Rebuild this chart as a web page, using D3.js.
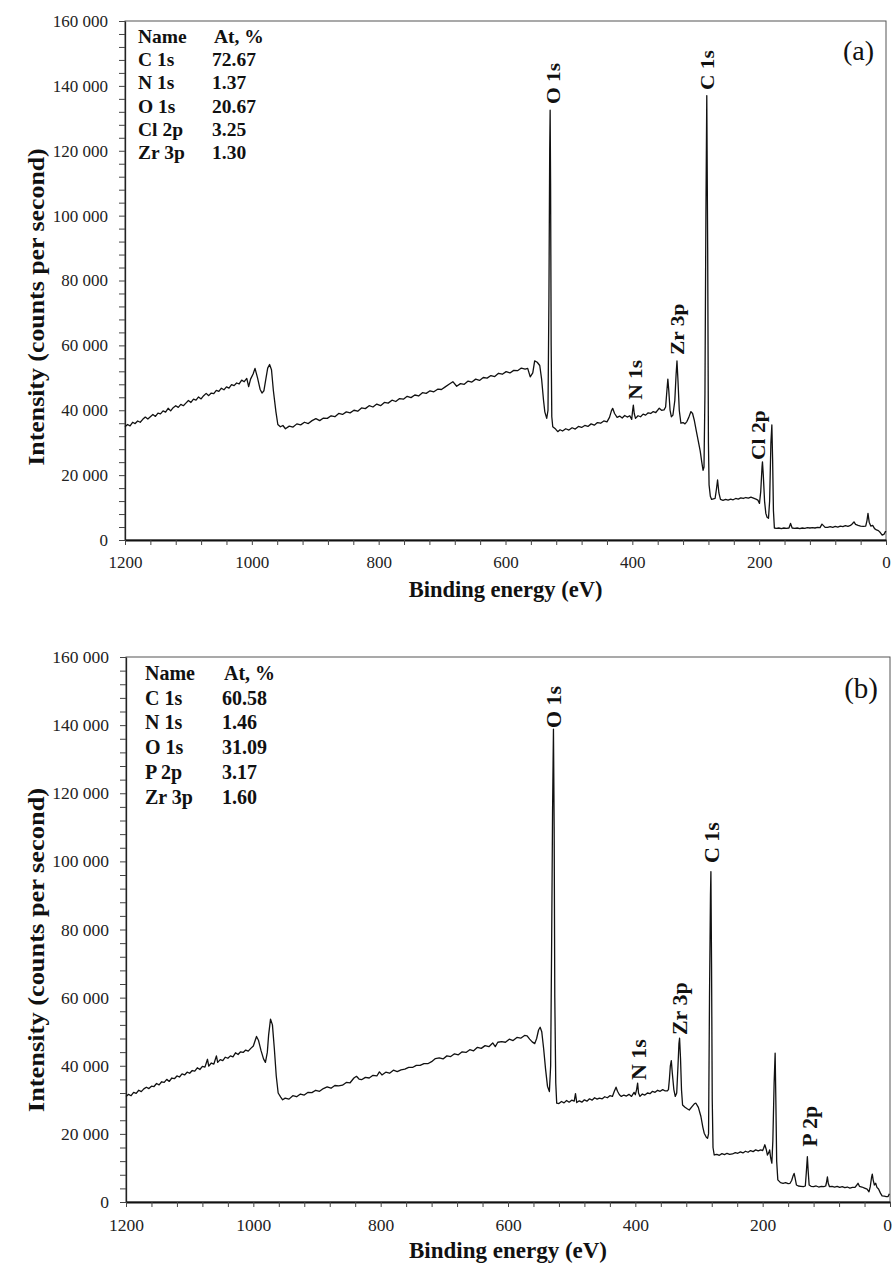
<!DOCTYPE html>
<html><head><meta charset="utf-8">
<script src="https://cdn.jsdelivr.net/npm/d3@7"></script>
<style>body{margin:0;background:#fff} svg{display:block} text{font-family:"Liberation Serif","Times New Roman",serif}</style>
</head><body><svg id="c" width="892" height="1268"></svg>
<script>
// ---------- data ----------
const xTickLabels = [1200, 1000, 800, 600, 400, 200, 0];
const yTickLabels = [0, 20000, 40000, 60000, 80000, 100000, 120000, 140000, 160000];
const xTitle = "Binding energy (eV)";
const yTitle = "Intensity (counts per second)";
const tableHeader = ["Name", "At, %"];

const namesA = ["C 1s", "N 1s", "O 1s", "Cl 2p", "Zr 3p"];
const atomicA = ["72.67", "1.37", "20.67", "3.25", "1.30"];
const namesB = ["C 1s", "N 1s", "O 1s", "P 2p", "Zr 3p"];
const atomicB = ["60.58", "1.46", "31.09", "3.17", "1.60"];

// peak annotations: text and anchor (eV, counts) of label start
const peaksA = [
  {text: "O 1s", eV: 514, cps: 134400},
  {text: "C 1s", eV: 271, cps: 138700},
  {text: "Zr 3p", eV: 318.5, cps: 57000},
  {text: "N 1s", eV: 385.3, cps: 43200},
  {text: "Cl 2p", eV: 191, cps: 24700}
];
const peaksB = [
  {text: "O 1s", eV: 517, cps: 139150},
  {text: "C 1s", eV: 268.6, cps: 99500},
  {text: "Zr 3p", eV: 319, cps: 49000},
  {text: "N 1s", eV: 383.3, cps: 35800},
  {text: "P 2p", eV: 115.2, cps: 16200}
];

const spectrumA = [[1200,34900],[1196,35600],[1192,35200],[1188,36300],[1184,35900],[1180,36700],[1176,36300],[1172,37200],[1168,37900],[1164,37300],[1160,38000],[1156,38700],[1152,38100],[1148,39100],[1144,38900],[1140,39800],[1136,39400],[1132,40600],[1128,39800],[1124,40800],[1120,41400],[1116,40900],[1112,41800],[1108,41400],[1104,42200],[1100,43000],[1096,42400],[1092,43400],[1088,43100],[1084,44100],[1080,43500],[1076,44500],[1072,45200],[1068,44500],[1064,45300],[1060,45100],[1056,46100],[1052,45800],[1048,46800],[1044,46300],[1040,47200],[1036,46800],[1032,47900],[1028,47600],[1024,48400],[1020,48100],[1016,49300],[1012,48800],[1008,49800],[1005,47300],[1002,49600],[998,51200],[995,52900],[991,50000],[987,46500],[984,45300],[981,46000],[978,49500],[975,53000],[972,54100],[969,52500],[966,46000],[962,39500],[959,35600],[955,34900],[951,35300],[947,34300],
[941,35100],[935,34800],[929,35800],[923,35500],[917,36300],[911,35900],[905,36800],[899,37400],[893,36800],[887,37600],[881,37500],[875,38300],[869,38000],[863,39000],[857,38700],[851,39500],[845,39200],[839,40000],[833,39700],[827,40700],[821,40500],[815,41400],[809,41000],[803,41900],[797,41400],[791,42400],[785,42200],[779,43100],[773,42700],[767,43600],[761,43400],[755,44300],[749,43900],[743,44700],[737,44400],[731,45400],[725,45200],[719,46000],[713,45700],[707,46500],[701,46400],[695,47200],[689,48000],[683,48800],[677,47400],[671,48200],[665,48000],[659,49000],[653,48700],[647,49600],[641,49200],[635,50100],[629,49900],[623,50700],[617,50400],[611,51400],[605,51100],[599,51900],[593,51500],[587,52300],[581,52200],[575,53000],[569,52700],[565,52900],[561,50300],[557,51500],[554,55200],[550,54800],[546,53800],[543,49500],[540,43000],[538,39500],[535,37500],[533,40000],[531.5,75000],[530.3,120000],[529.6,132500],[528.9,110000],[528,60000],[527,38000],[525.5,34900],[521,34200],[517.6,33400],[514,34000],[510,33600],[505,34300],[500,33900],[495,34600],[490,34200],[485,35000],[480,34700],[475,35300],[470,35000],[465,35800],[460,35400],[455,36200],[450,36000],[445,36700],[440,36400],[436,37800],[433,39800],[431,40600],[428,39000],[424,37800],[420,38200],[416,37600],[412,38400],[408,37900],[404,38300],[401,37200],[399.5,40000],[398.4,41600],[397,39000],[395,37500],[391,38300],[387,38000],[383,38800],[379,38500],[375,39200],[371,39000],[367,39600],[363,39300],[359,40300],[357.5,40600],[354,40000],[350,40100],[347.5,41000],[345.5,46000],[344,49600],[342.5,46000],[340.5,40000],[338.5,38000],[336,38500],[333,43000],[331,51000],[329.6,55200],[328,49000],[326,40000],[323.4,36000],[320,36200],[317,35800],[314,36500],[311,37800],[307.6,39600],[305,39000],[302.4,37000],[299,33500],[296,30500],[293,27500],[290.5,24000],[288.5,21500],[287,22500],[285.5,45000],[284,100000],[282.6,137000],[281.2,90000],[280,30000],[279,17000],[277,13500],[275,12500],[272,12700],[269.5,12800],[267.5,15500],[265.6,18500],[263.5,14500],[261,12500],[257,12200],[253,12500],[249,12300],[245,12600],[241,12400],[237,12800],[233,12600],[229,13000],[225,12800],[221,13100],[217,12900],[213,13200],[209,12900],[205,12600],[202,12300],[199.5,11300],[197.5,15000],[195.5,22500],[194.8,24100],[193.5,20000],[191.5,12000],[189.5,8200],[187.5,7000],[185.3,6700],[183.5,12000],[181.5,30000],[180,35450],[178.8,25000],[177.5,9000],[176,3700],[173,3600],[169,3700],[165,3500],[161,3700],[157,3600],[153,3700],[150.5,5100],[148,3700],[144,3600],[140,3700],[136,3500],[132,3700],[128,3600],[124,3800],[120,3700],[116,3800],[112,3700],[108,3900],[104,3800],[101,4900],[99,4500],[96,3900],[92,3900],[88,4100],[84,3900],[80,4200],[76,4000],[72,4300],[68,4100],[64,4400],[60,4200],[56,4500],[53,5000],[50.5,5600],[48,4800],[44,4500],[40,4300],[36,4200],[32,4300],[30,6000],[28.4,8200],[26.5,5500],[24,4300],[21,4500],[18,3500],[15,3100],[12,2900],[9,2300],[6,1500],[3,1800],[1,2600],[0,2400]];

const spectrumB = [[1200,31000],[1196,31600],[1192,31200],[1188,32200],[1184,31900],[1180,32800],[1176,32400],[1172,33200],[1168,33700],[1164,33300],[1160,34000],[1156,33900],[1152,34800],[1148,34400],[1144,35300],[1140,35100],[1136,36000],[1132,35400],[1128,36400],[1124,36200],[1120,37000],[1116,36700],[1112,37600],[1108,37300],[1104,38100],[1100,37800],[1096,38600],[1092,38400],[1088,39400],[1084,38900],[1080,39800],[1076,39600],[1072,41900],[1070,39900],[1066,40800],[1062,40500],[1058,42900],[1056,41000],[1052,41800],[1048,41500],[1044,42500],[1040,42200],[1036,42900],[1032,42600],[1028,43800],[1024,43300],[1020,44100],[1016,43900],[1012,44600],[1008,44300],[1004,45100],[1000,45800],[997,47500],[995,48600],[992,47500],[988,44500],[984,42000],[981,41000],[978,44000],[976,49000],[973,53700],[970,52000],[967,45000],[964,37000],[961,32000],[957,30800],[954,30000],[950,30500],[944,30200],[938,31200],[932,30900],[926,31700],[920,31400],[914,32200],[908,32100],[902,32800],[896,32500],[890,33300],[884,33800],[878,33400],[872,34200],[866,34100],[860,34300],[854,35100],[848,35000],[842,36400],[838,36900],[834,36100],[830,35900],[824,36600],[818,36400],[812,37200],[806,37000],[802,38200],[798,37300],[792,38100],[786,37800],[780,38700],[774,38300],[768,38800],[762,39000],[756,39500],[750,39500],[744,40100],[738,40100],[732,40600],[726,40600],[720,41200],[714,42100],[708,42300],[702,42000],[696,42900],[690,42700],[684,43500],[678,43200],[672,44100],[666,43900],[660,44700],[654,44400],[648,45400],[642,45100],[636,45900],[630,45600],[624,46700],[620,45600],[616,46900],[610,47100],[604,46900],[598,47800],[592,47400],[586,48300],[580,48100],[574,48900],[570,48800],[566,47800],[562,47000],[558,46500],[555,48000],[552,50500],[549.5,51300],[547,50000],[544,45000],[541,39000],[538,34000],[535,32400],[533,40000],[531.5,75000],[530,115000],[528.6,138800],[527.5,110000],[526.5,60000],[525,35000],[523.5,29000],[520,28900],[516,29500],[512,29100],[508,29800],[504,29300],[500,29900],[496,29600],[494,31800],[492,29200],[488,29700],[484,29300],[480,30000],[476,29600],[472,30300],[468,29900],[464,30600],[460,30200],[456.5,30500],[452,30300],[448,30900],[444,30600],[440,31200],[436,31000],[433,32500],[430.3,33700],[428,32500],[425,31500],[422,31000],[418,31400],[414,31100],[410,31600],[406,31000],[402,32200],[400,31500],[398,33000],[396.4,34900],[395,32000],[392.7,31000],[389,31700],[385,31400],[381,32000],[377,31800],[373,32500],[369,32200],[365,32800],[361,32500],[357,33000],[353,32600],[350,32600],[348,33000],[346.5,36000],[345,40000],[343.5,41500],[342,38000],[339.5,33000],[337.3,31000],[335,32000],[333,40000],[331.5,46500],[330.5,48100],[329,42000],[327.5,33000],[325.8,28500],[322,27800],[318,27300],[315.3,27000],[311,28000],[307,28900],[304.8,29000],[301,27800],[297,25100],[294,22000],[291.8,20200],[288.5,19000],[286.6,18700],[285,20000],[283.5,60000],[282,90000],[281.3,97000],[280.3,70000],[279.2,30000],[278,16000],[276.1,13800],[272,14000],[268,13700],[264,14200],[260,13900],[256,14300],[252,14000],[247.4,14100],[243,14500],[239,14300],[235,14700],[231,14400],[227,14900],[223,14600],[219,15100],[215,14800],[211,15300],[207,15000],[203,15300],[200,15100],[198.5,15800],[196.6,16800],[194.5,15500],[192.5,13800],[190.5,14500],[189,15300],[187.5,13000],[185.6,11400],[184,18000],[182,35000],[180.4,43700],[179.3,30000],[178,12000],[176.2,6500],[172,5700],[168,5500],[164,5700],[160,5400],[157,5500],[154.5,6300],[152,7800],[150.6,8400],[149,7000],[147,5000],[144,4700],[140,4600],[136,4500],[133,4700],[131.5,8500],[129.8,13300],[128.5,9000],[127,5000],[124,4600],[120,4500],[116,4700],[112,4400],[108,4600],[104,4500],[101,4700],[99.5,6000],[98.3,7400],[97,5500],[95,4500],[91,4600],[87,4400],[83,4600],[79,4300],[75,4500],[71,4200],[67,4400],[63,4100],[59,4300],[55,4300],[52,5000],[50.2,5500],[48,4600],[44,4400],[40,4100],[36,3800],[33,3000],[31,4500],[29,7200],[27.8,8200],[26.5,6500],[24.5,5000],[22.5,5500],[20.5,4300],[18,3800],[15,2600],[12.4,1800],[9,1700],[6,1600],[3,1600],[1,2400]];

// ---------- drawing ----------
const svg = d3.select("#c");
const fmtY = d => d3.format(",")(d).replace(/,/g, " ");
const FONT = '"Liberation Serif","Times New Roman",serif';

function panel(cfg) {
  const x = d3.scaleLinear().domain([1200, 0]).range([cfg.left, cfg.right]);
  const y = d3.scaleLinear().domain([0, 160000]).range([cfg.bottom, cfg.top]);
  const g = svg.append("g");

  // frame (top/right)
  g.append("rect").attr("x", cfg.left).attr("y", cfg.top)
    .attr("width", cfg.right - cfg.left).attr("height", cfg.bottom - cfg.top)
    .attr("fill", "none").attr("stroke", "#555").attr("stroke-width", 1);

  // y axis
  const yMinor = d3.range(0, 160001, 4000);
  const ya = g.append("g").attr("transform", `translate(${cfg.left},0)`)
    .call(d3.axisLeft(y).tickValues(yMinor).tickSize(6).tickSizeOuter(0).tickPadding(11)
      .tickFormat(d => yTickLabels.includes(d) ? fmtY(d) : ""));
  ya.attr("font-family", FONT);
  ya.select(".domain").attr("stroke", "#222").attr("stroke-width", 1.3);
  ya.selectAll(".tick line").attr("stroke", "#444");
  ya.selectAll(".tick text").attr("font-size", cfg.tickFont).attr("fill", "#222");

  // x axis
  const xMinor = d3.range(0, 1201, 40);
  const xa = g.append("g").attr("transform", `translate(0,${cfg.bottom})`)
    .call(d3.axisBottom(x).tickValues(xMinor).tickSize(5).tickSizeOuter(0).tickPadding(cfg.xPad)
      .tickFormat(d => xTickLabels.includes(d) ? String(d) : ""));
  xa.attr("font-family", FONT);
  xa.select(".domain").attr("stroke", "#111").attr("stroke-width", 1.8);
  xa.selectAll(".tick line").attr("stroke", "#444");
  xa.selectAll(".tick text").attr("font-size", cfg.tickFont).attr("fill", "#222")
    .attr("dx", d => (d === 0 ? cfg.zeroDx : 0));

  // spectrum
  const line = d3.line().x(d => x(d[0])).y(d => y(d[1]));
  g.append("path").datum(cfg.data).attr("d", line)
    .attr("fill", "none").attr("stroke", "#111").attr("stroke-width", 1.3)
    .attr("stroke-linejoin", "round");

  // peak labels (rotated)
  g.selectAll(".pk").data(cfg.peaks).join("text")
    .attr("transform", d => `translate(${x(d.eV)},${y(d.cps)}) rotate(-90) scale(1.1,1)`)
    .attr("font-size", cfg.peakFont).attr("font-weight", "bold").attr("fill", "#111")
    .text(d => d.text);

  // composition table
  const rows = [tableHeader].concat(cfg.names.map((n, i) => [n, cfg.values[i]]));
  rows.forEach((r, i) => {
    const yy = cfg.tblY + i * cfg.tblStep;
    g.append("text").attr("x", cfg.tblX1).attr("y", yy).attr("font-size", cfg.tblFont)
      .attr("font-weight", "bold").attr("fill", "#111").text(r[0]);
    g.append("text").attr("x", i === 0 ? cfg.tblX2h : cfg.tblX2).attr("y", yy).attr("font-size", cfg.tblFont)
      .attr("font-weight", "bold").attr("fill", "#111").text(r[1]);
  });

  // panel letter
  g.append("text").attr("x", cfg.right - 12).attr("y", cfg.top + cfg.letterDy)
    .attr("text-anchor", "end").attr("font-size", cfg.letterFont).attr("fill", "#111").text(cfg.letter);

  // axis titles
  g.append("text").attr("x", (cfg.left + cfg.right) / 2).attr("y", cfg.bottom + cfg.xTitleDy)
    .attr("text-anchor", "middle").attr("font-size", cfg.titleFont).attr("font-weight", "bold")
    .attr("fill", "#111").text(xTitle);
  g.append("text").attr("transform", `translate(${cfg.yTitleX},${cfg.yTitleY}) rotate(-90) scale(1.1,1)`)
    .attr("text-anchor", "middle").attr("font-size", cfg.yTitleFont).attr("font-weight", "bold")
    .attr("fill", "#111").text(yTitle);
}

panel({left: 125, right: 886, top: 21, bottom: 540, data: spectrumA, peaks: peaksA,
  names: namesA, values: atomicA, letter: "(a)", tickFont: 17, xPad: 11, peakFont: 19.5, zeroDx: 0,
  tblX1: 138, tblX2: 212, tblX2h: 214, tblY: 42.7, tblStep: 23.3, tblFont: 19.5,
  letterDy: 39, letterFont: 28, xTitleDy: 57, titleFont: 22.5,
  yTitleX: 44, yTitleY: 307, yTitleFont: 23.5});

panel({left: 126, right: 890, top: 657, bottom: 1202, data: spectrumB, peaks: peaksB,
  names: namesB, values: atomicB, letter: "(b)", tickFont: 17.5, xPad: 12, peakFont: 20, zeroDx: -3,
  tblX1: 145, tblX2: 222, tblX2h: 224, tblY: 680, tblStep: 24.7, tblFont: 20,
  letterDy: 41, letterFont: 29, xTitleDy: 56, titleFont: 23,
  yTitleX: 44, yTitleY: 950, yTitleFont: 24});
</script></body></html>
